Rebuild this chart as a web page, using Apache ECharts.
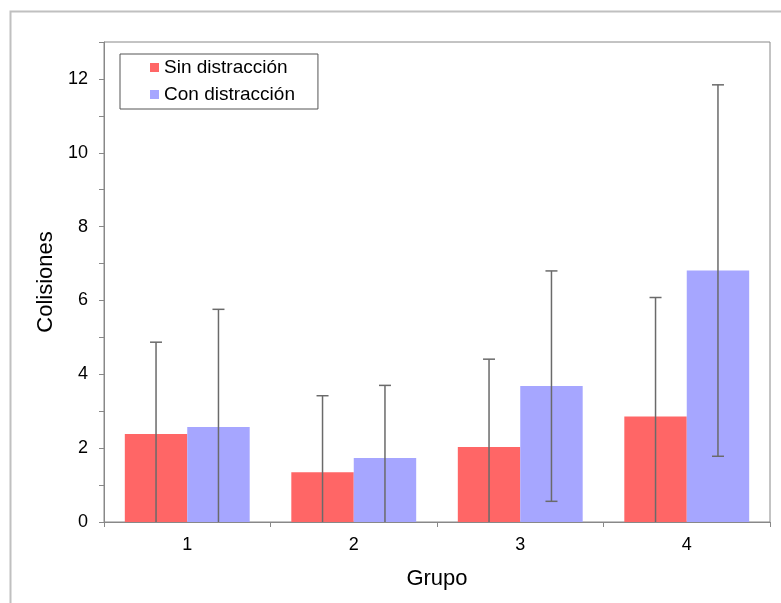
<!DOCTYPE html>
<html><head><meta charset="utf-8">
<script src="https://cdn.jsdelivr.net/npm/echarts@6/dist/echarts.min.js"></script>
<style>html,body{margin:0;padding:0;background:#fff}#c{width:781px;height:603px}</style>
</head><body><div id="c"></div>
<script>
const categories = ['1', '2', '3', '4'];
const seriesNames = ['Sin distracción', 'Con distracción'];
const sinMeans = [2.38, 1.35, 2.03, 2.86];
const sinErr = [2.49, 2.07, 2.38, 3.22];
const conMeans = [2.57, 1.73, 3.68, 6.81];
const conErr = [3.19, 1.97, 3.12, 5.03];
const yTicks = [0, 2, 4, 6, 8, 10, 12];

const colors = ['#FF6666', '#A6A6FF'];
const chart = echarts.init(document.getElementById('c'), null, {renderer: 'canvas'});
const FONT = '"Liberation Sans", Arial, sans-serif';

function errSeries(means, errs, idx) {
  return {
    type: 'custom',
    name: 'err' + idx,
    z: 5,
    silent: true,
    data: means.map((m, i) => [i, Math.max(0, m - errs[i]), m + errs[i], m - errs[i] > 0 ? 1 : 0]),
    renderItem: function (params, api) {
      const i = api.value(0);
      const lo = api.coord([i, api.value(1)]);
      const hi = api.coord([i, api.value(2)]);
      const band = api.size([1, 0])[0];
      const bw = band * 0.75 / 2;
      const x = lo[0] + (idx === 0 ? -bw / 2 : bw / 2);
      const cap = 6;
      const style = {stroke: '#6a6a6a', lineWidth: 1.5};
      const children = [
        {type: 'line', shape: {x1: x, y1: lo[1], x2: x, y2: hi[1]}, style: style},
        {type: 'line', shape: {x1: x - cap, y1: hi[1], x2: x + cap, y2: hi[1]}, style: style}
      ];
      if (api.value(3) === 1) {
        children.push({type: 'line', shape: {x1: x - cap, y1: lo[1], x2: x + cap, y2: lo[1]}, style: style});
      }
      return {type: 'group', children: children};
    }
  };
}

const option = {
  animation: false,
  backgroundColor: '#fff',
  textStyle: {fontFamily: FONT},
  graphic: [
    {type: 'polyline', shape: {points: [[10.5, 603], [10.5, 11.5], [781, 11.5]]},
     style: {stroke: '#c0c0c0', lineWidth: 2, fill: null}, silent: true}
  ],
  grid: {left: 104, right: 11, top: 42, bottom: 81, show: true, borderColor: '#888', borderWidth: 1, backgroundColor: 'transparent'},
  legend: {
    data: seriesNames,
    orient: 'vertical',
    left: 120, top: 54,
    itemWidth: 9, itemHeight: 9, itemGap: 8,
    padding: [4, 23, 5, 30],
    borderColor: '#555', borderWidth: 1,
    icon: 'rect',
    textStyle: {fontSize: 19, color: '#000', fontFamily: FONT, lineHeight: 18},
    selectedMode: false
  },
  xAxis: {
    type: 'category',
    data: categories,
    name: 'Grupo',
    nameLocation: 'middle',
    nameGap: 46,
    nameTextStyle: {fontSize: 22, color: '#000', fontFamily: FONT},
    axisLine: {lineStyle: {color: '#888', width: 1}},
    axisTick: {show: true, length: 5, inside: false, alignWithLabel: false, lineStyle: {color: '#888'}},
    axisLabel: {fontSize: 18, color: '#000', margin: 14, fontFamily: FONT}
  },
  yAxis: {
    type: 'value',
    min: 0, max: 13, interval: 2,
    name: 'Colisiones',
    nameLocation: 'middle',
    nameGap: 44,
    nameRotate: 90,
    nameTextStyle: {fontSize: 22, color: '#000', fontFamily: FONT},
    axisLine: {show: true, lineStyle: {color: '#888', width: 1}},
    axisTick: {show: true, length: 5, lineStyle: {color: '#888'}},
    minorTick: {show: true, splitNumber: 2, length: 5, lineStyle: {color: '#888'}},
    splitLine: {show: false},
    axisLabel: {fontSize: 18, color: '#000', margin: 16, fontFamily: FONT,
      formatter: v => (yTicks.indexOf(v) >= 0 ? String(v) : '')}
  },
  series: [
    {type: 'bar', name: seriesNames[0], data: sinMeans, itemStyle: {color: colors[0]}, barGap: '0%', barCategoryGap: '25%'},
    {type: 'bar', name: seriesNames[1], data: conMeans, itemStyle: {color: colors[1]}, barGap: '0%', barCategoryGap: '25%'},
    errSeries(sinMeans, sinErr, 0),
    errSeries(conMeans, conErr, 1)
  ]
};
chart.setOption(option);
</script></body></html>
